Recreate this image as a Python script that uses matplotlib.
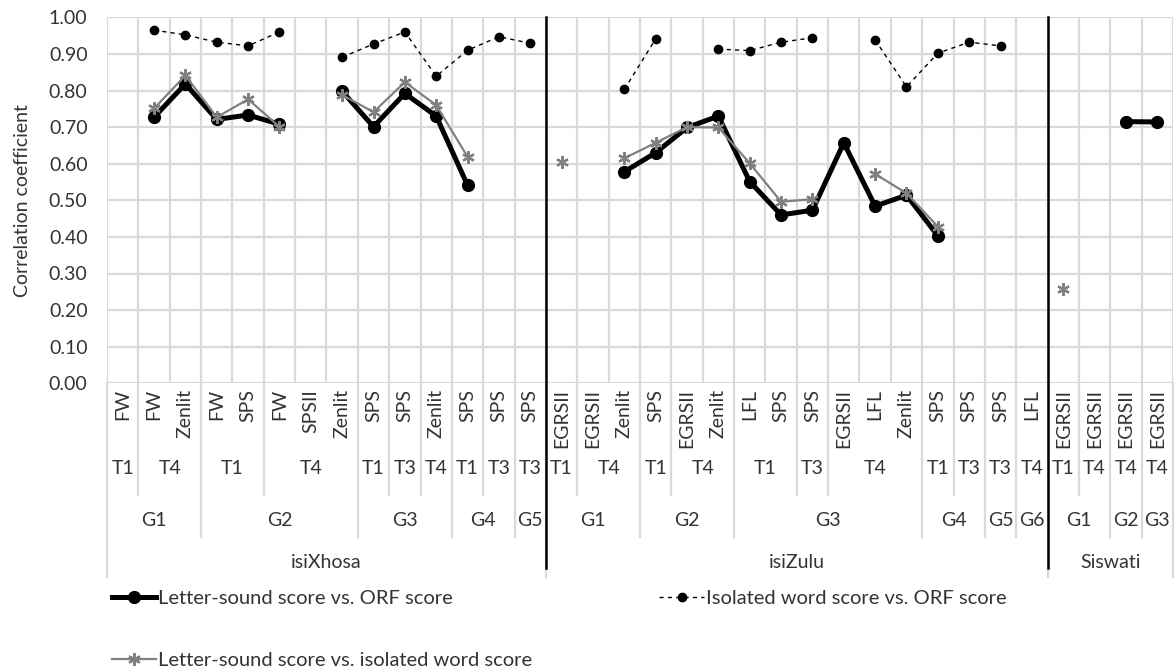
import numpy as np
import matplotlib
matplotlib.use("Agg")
import matplotlib.pyplot as plt
import matplotlib.transforms as mtransforms

plt.rcParams['font.family'] = ['Lato', 'DejaVu Sans']

# category levels (inner to outer)
names = ["FW", "FW", "Zenlit", "FW", "SPS", "FW", "SPSII", "Zenlit", "SPS", "SPS", "Zenlit", "SPS", "SPS", "SPS",
         "EGRSII", "EGRSII", "Zenlit", "SPS", "EGRSII", "Zenlit", "LFL", "SPS", "SPS", "EGRSII", "LFL", "Zenlit",
         "SPS", "SPS", "SPS", "LFL",
         "EGRSII", "EGRSII", "EGRSII", "EGRSII"]
terms = ["T1", "T4", "T4", "T1", "T1", "T4", "T4", "T4", "T1", "T3", "T4", "T1", "T3", "T3",
         "T1", "T4", "T4", "T1", "T4", "T4", "T1", "T1", "T3", "T4", "T4", "T4", "T1", "T3", "T3", "T4",
         "T1", "T4", "T4", "T4"]
grades = ["G1", "G1", "G1", "G2", "G2", "G2", "G2", "G2", "G3", "G3", "G3", "G4", "G4", "G5",
          "G1", "G1", "G1", "G2", "G2", "G2", "G3", "G3", "G3", "G3", "G3", "G3", "G4", "G4", "G5", "G6",
          "G1", "G1", "G2", "G3"]
langs = ["isiXhosa"] * 14 + ["isiZulu"] * 16 + ["Siswati"] * 4

nan = np.nan
letter_orf = [nan, 0.727, 0.818, 0.721, 0.733, 0.708, nan, 0.798, 0.701, 0.792, 0.730, 0.541, nan, nan,
              nan, nan, 0.578, 0.630, 0.699, 0.730, 0.551, 0.460, 0.473, 0.657, 0.484, 0.514, 0.403, nan, nan, nan,
              nan, nan, 0.715, 0.714]
word_orf = [nan, 0.965, 0.952, 0.932, 0.922, 0.960, nan, 0.891, 0.927, 0.960, 0.839, 0.910, 0.947, 0.929,
            nan, nan, 0.803, 0.941, nan, 0.913, 0.909, 0.932, 0.944, nan, 0.938, 0.810, 0.902, 0.932, 0.922, nan,
            nan, nan, nan, nan]
letter_word = [nan, 0.751, 0.841, 0.727, 0.776, 0.701, nan, 0.788, 0.741, 0.823, 0.760, 0.619, nan, nan,
               0.604, nan, 0.615, 0.657, 0.700, 0.699, 0.601, 0.496, 0.503, nan, 0.572, 0.519, 0.428, nan, nan, nan,
               0.258, nan, nan, nan]

n = len(names)
x = np.arange(n)
fs = 14
txt_c = "#333333"

fig = plt.figure(figsize=(11.75, 6.72), dpi=100)
ax = fig.add_axes([107 / 1175, 1 - 383.3 / 672, 1066 / 1175, 366 / 672])

grid_c = "#d9d9d9"
ax.set_xlim(-0.5, n - 0.5)
ax.set_ylim(0, 1)
ax.set_yticks(np.arange(0, 1.01, 0.1))
ax.set_yticklabels(["%.2f" % v for v in np.arange(0, 1.01, 0.1)], fontsize=fs, color=txt_c)
ax.set_xticks([])
ax.set_xticks(np.arange(-0.5, n, 1), minor=True)
ax.tick_params(which="both", length=0, pad=14)
ax.grid(True, which="major", axis="y", color=grid_c, lw=1.6)
ax.grid(True, which="minor", axis="x", color=grid_c, lw=1.6)
ax.set_axisbelow(True)
for s in ax.spines.values():
    s.set_visible(False)
ax.set_ylabel("Correlation coefficient", fontsize=fs, color=txt_c, labelpad=13)

l1, = ax.plot(x, letter_orf, color="black", lw=3.6, marker="o", ms=8.5, zorder=3,
              label="Letter-sound score vs. ORF score")
l3, = ax.plot(x, letter_word, color="#808080", lw=1.6, marker=(6, 2, 0), ms=9, mew=1.6, zorder=4,
              label="Letter-sound score vs. isolated word score")
l2, = ax.plot(x, word_orf, color="black", lw=1.0, ls=(0, (3, 3)), marker="o", ms=6, zorder=5,
              label="Isolated word score vs. ORF score")

# multi-level category axis
trans = mtransforms.blended_transform_factory(ax.transData, ax.transAxes)


def ay(py):
    return (383.3 - py) / 366


for i, nm in enumerate(names):
    ax.text(i, ay(389), nm, rotation=90, ha="center", va="top", fontsize=fs,
            color=txt_c, transform=trans)


def runs(keys):
    out = []
    start = 0
    for i in range(1, n + 1):
        if i == n or keys[i] != keys[start]:
            out.append((start, i - 1, keys[start]))
            start = i
    return out


t_keys = list(zip(langs, grades, terms))
g_keys = list(zip(langs, grades))
for a, b, k in runs(t_keys):
    ax.text((a + b) / 2, ay(468), k[2], ha="center", va="center", fontsize=fs, color=txt_c, transform=trans)
for a, b, k in runs(g_keys):
    ax.text((a + b) / 2, ay(520), k[1], ha="center", va="center", fontsize=fs, color=txt_c, transform=trans)
for a, b, k in runs(langs):
    ax.text((a + b) / 2, ay(562), k, ha="center", va="center", fontsize=fs, color=txt_c, transform=trans)

# separators below the axis
for i in range(n + 1):
    if i == 0 or i == n or langs[i] != langs[i - 1]:
        bottom = ay(577)
    elif grades[i] != grades[i - 1]:
        bottom = ay(537)
    elif terms[i] != terms[i - 1]:
        bottom = ay(495)
    else:
        continue
    ax.plot([i - 0.5, i - 0.5], [0, bottom], color=grid_c, lw=1.6, transform=trans, clip_on=False, zorder=1)
    if 0 < i < n and langs[i] != langs[i - 1]:
        ax.plot([i - 0.5, i - 0.5], [1, ay(568)], color="black", lw=1.8, transform=trans, clip_on=False, zorder=6)

fig.legend(handles=[l1, l3, l2], loc="upper left", bbox_to_anchor=(94 / 1175, 1 - 572 / 672), ncol=2,
           frameon=False, fontsize=14.5, handlelength=2.2, handletextpad=0.1, labelspacing=2.2,
           columnspacing=6.3, labelcolor=txt_c)

fig.savefig("out.png", dpi=100)
